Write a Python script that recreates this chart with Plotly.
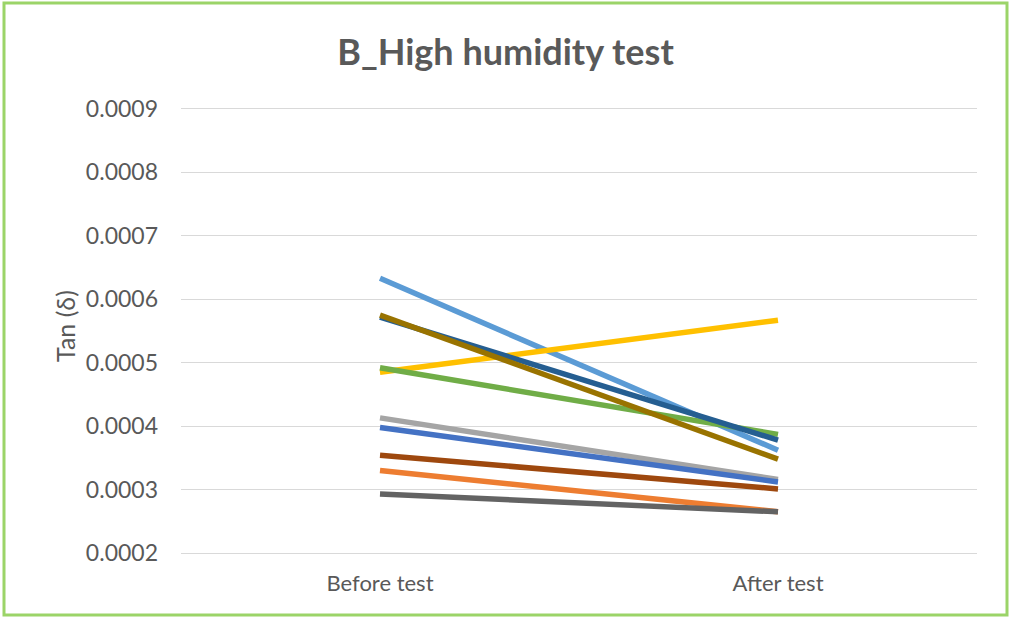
import plotly.graph_objects as go

categories = ["Before test", "After test"]
y_title = "Tan (δ)"
s_lightblue = [0.000633, 0.000362]
s_orange = [0.000330, 0.000265]
s_gray = [0.000413, 0.000316]
s_yellow = [0.000485, 0.000567]
s_blue = [0.000398, 0.000312]
s_green = [0.000492, 0.000387]
s_darkblue = [0.000572, 0.000378]
s_darkorange = [0.000354, 0.000301]
s_darkgray = [0.000293, 0.000265]
s_olive = [0.000575, 0.000348]

series = [
    (s_lightblue, "#5B9BD5"),
    (s_orange, "#ED7D31"),
    (s_gray, "#A5A5A5"),
    (s_yellow, "#FFC000"),
    (s_blue, "#4472C4"),
    (s_green, "#70AD47"),
    (s_darkblue, "#255E91"),
    (s_darkorange, "#9E480E"),
    (s_darkgray, "#636363"),
    (s_olive, "#997300"),
]

fig = go.Figure()
for vals, col in series:
    fig.add_trace(go.Scatter(x=[0, 1], y=vals, mode="lines",
                             line=dict(color=col, width=5.5), showlegend=False))

L, R, T, B = 181, 34, 109, 66
W, H = 1011, 619
pw, ph = W - L - R, H - T - B
FONT = "Lato, Open Sans, sans-serif"

fig.update_layout(
    width=W, height=H,
    margin=dict(l=L, r=R, t=T, b=B),
    plot_bgcolor="white", paper_bgcolor="white",
    title=dict(text="<b>B_High humidity test</b>", x=0.5, xref="container",
               xanchor="center", y=1 - 52 / H, yanchor="middle",
               font=dict(family=FONT, size=36, color="#595959")),
    font=dict(family=FONT, color="#595959"),
    xaxis=dict(range=[-0.5, 1.5], tickmode="array", tickvals=[0, 1], ticktext=categories,
               showgrid=False, zeroline=False, showline=True, mirror=True, linecolor="#D9D9D9",
               ticks="", tickfont=dict(size=22, color="#595959"), ticklabelstandoff=11),
    yaxis=dict(range=[0.0002, 0.0009], dtick=0.0001, tickformat=".4f",
               showgrid=True, gridcolor="#D9D9D9", gridwidth=1, zeroline=False,
               ticks="", tickfont=dict(size=23, color="#595959"), ticklabelstandoff=22),
    annotations=[dict(text=y_title, xref="paper", yref="paper",
                      x=(65 - L) / pw, y=(H - B - 326) / ph, xanchor="center", yanchor="middle",
                      textangle=-90, showarrow=False,
                      font=dict(family=FONT, size=25, color="#595959"))],
    shapes=[dict(type="rect", xref="paper", yref="paper",
                 x0=(4 - L) / pw, x1=(1007 - L) / pw,
                 y0=(H - B - 615) / ph, y1=(H - B - 3) / ph,
                 line=dict(color="#9BD468", width=3), fillcolor="rgba(0,0,0,0)", layer="below")],
)

fig.write_html("out.html", config={"displayModeBar": False},
               post_script="document.body.style.margin='0';document.body.style.overflow='hidden';")
